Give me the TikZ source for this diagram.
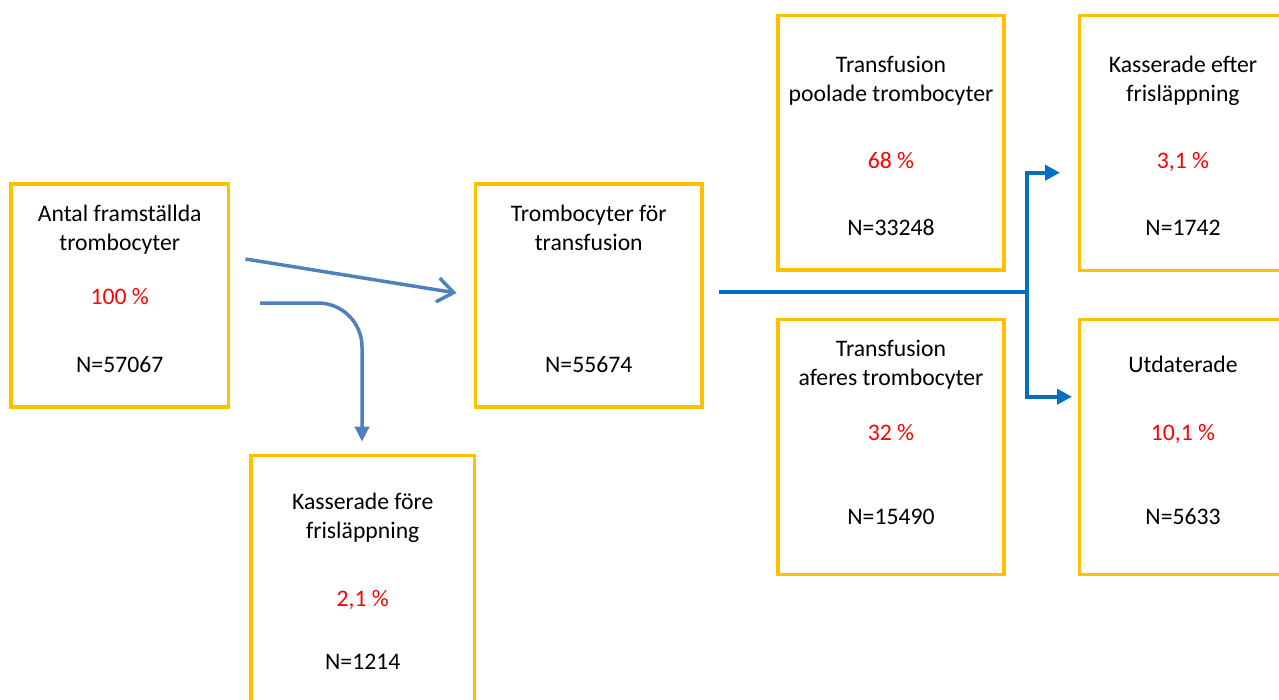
\documentclass[tikz,border=0pt]{standalone}
\usepackage{fontspec}
\setmainfont{Carlito}
\usetikzlibrary{arrows.meta}
\usetikzlibrary{positioning}

\definecolor{boxgold}{HTML}{FFC000}
\definecolor{flowblue}{HTML}{4F81BD}
\definecolor{forkblue}{HTML}{0070C0}
\definecolor{pctred}{HTML}{FF0000}

\tikzset{
    stagebox/.style={draw=boxgold, line width=3.5pt, inner sep=0pt},
    txt/.style={anchor=base, inner sep=0pt, align=center, font=\fontsize{23.7}{29}\selectfont},
    pct/.style={txt, text=pctred},
    flow/.style={draw=flowblue, line width=3.5pt},
    fork/.style={draw=forkblue, line width=4pt},
}

\begin{document}
\begin{tikzpicture}[x=1pt, y=-1pt]
    \useasboundingbox (0,0) rectangle (1279,699);

    % boxes
    \node[stagebox, minimum width=217.5pt, minimum height=223pt] (antal) at (119.75,295.5) {};
    \node[stagebox, minimum width=226.5pt, minimum height=223pt] (tromb) at (588.75,295.5) {};
    \node[stagebox, minimum width=223.5pt, minimum height=260pt] (fore) at (362.75,585.3) {};
    \node[stagebox, minimum width=226pt, minimum height=254.7pt] (pool) at (891,142.65) {};
    \node[stagebox, minimum width=226pt, minimum height=255pt] (aferes) at (891,447.2) {};
    \node[stagebox, minimum width=226pt, minimum height=255pt] (efter) at (1192.5,142.9) {};
    \node[stagebox, minimum width=226pt, minimum height=255pt] (utdat) at (1192.5,447.2) {};

    % texts (base = last line)
    \node[txt] (antal-t) at (119.75,250) {Antal framställda\\trombocyter};
    \node[pct] (antal-p) at (119.75,304) {100 \%};
    \node[txt] (antal-n) at (119.75,372.7) {N=57067};

    \node[txt] (tromb-t) at (588.75,250) {Trombocyter för\\transfusion};
    \node[txt] (tromb-n) at (588.75,372.7) {N=55674};

    \node[txt] (fore-t) at (362.75,538.5) {Kasserade före\\frisläppning};
    \node[pct] (fore-p) at (362.75,606.7) {2,1 \%};
    \node[txt] (fore-n) at (362.75,669.3) {N=1214};

    \node[txt] (pool-t) at (891,101) {Transfusion\\poolade trombocyter};
    \node[pct] (pool-p) at (891,168.3) {68 \%};
    \node[txt] (pool-n) at (891,235.7) {N=33248};

    \node[txt] (aferes-t) at (891,385.5) {Transfusion\\aferes trombocyter};
    \node[pct] (aferes-p) at (891,440) {32 \%};
    \node[txt] (aferes-n) at (891,524) {N=15490};

    \node[txt] (efter-t) at (1183,101) {Kasserade efter\\frisläppning};
    \node[pct] (efter-p) at (1183,168.3) {3,1 \%};
    \node[txt] (efter-n) at (1183,235.7) {N=1742};

    \node[txt] (utdat-t) at (1183,372) {Utdaterade};
    \node[pct] (utdat-p) at (1183,440) {10,1 \%};
    \node[txt] (utdat-n) at (1183,524) {N=5633};

    % connectors
    \coordinate (go-s) at (245.5,259);
    \coordinate (go-e) at (456.5,293);
    \coordinate (drop-s) at (260,303);
    \coordinate (drop-e) at (362,441.7);
    \coordinate (split-s) at (719,292);
    \coordinate (split) at (1027,292);
    \coordinate (up-e) at (1060,172.7);
    \coordinate (down-e) at (1072,396.7);

    \draw[flow, -{Straight Barb[length=16pt, width=24pt]}] (go-s) -- (go-e);
    \draw[flow, rounded corners=44pt, -{Triangle[length=15pt, width=14pt]}] (drop-s) -| (drop-e);

    \draw[fork] (split-s) -- (split);
    \draw[fork, -{Triangle[length=15pt, width=15pt]}] (split) |- (up-e);
    \draw[fork, -{Triangle[length=15pt, width=15pt]}] (split) |- (down-e);

\end{tikzpicture}
\end{document}
